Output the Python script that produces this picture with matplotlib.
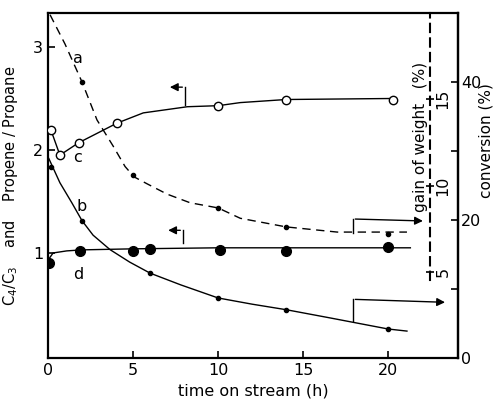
import matplotlib.pyplot as plt
import numpy as np

plt.rcParams['font.family'] = ['DejaVu Sans']
plt.rcParams['font.size'] = 11.5

# --- data ---
# a: gain of weight (%), dashed, small dots
a_t = [2, 5, 10, 14, 20]
a_val = [16.0, 10.6, 8.7, 7.6, 7.2]
a_line_t = [0.12, 1.0, 2.0, 2.88, 3.82, 4.53, 5.06, 5.82, 7.0, 8.35, 10.0, 11.3, 14.0, 17.0, 21.1]
a_line_val = [19.9, 18.2, 16.0, 13.8, 12.3, 11.1, 10.5, 10.1, 9.5, 9.0, 8.7, 8.1, 7.6, 7.3, 7.3]

# b: conversion (%), solid, small dots
b_t = [0.2, 2, 6, 10, 14, 20]
b_val = [27.7, 19.9, 12.3, 8.7, 7.0, 4.2]
b_line_t = [0.05, 0.7, 1.4, 2.0, 2.65, 3.65, 4.8, 6.0, 7.8, 10.0, 12.0, 14.0, 16.6, 20.0, 21.1]
b_line_val = [28.9, 25.4, 22.5, 19.9, 17.8, 15.7, 13.9, 12.3, 10.6, 8.7, 7.8, 7.0, 5.8, 4.2, 3.9]

# c: propene/propane, open circles
c_t = [0.18, 0.7, 1.8, 4.05, 10.0, 14.0, 20.3]
c_val = [2.19, 1.95, 2.07, 2.26, 2.43, 2.49, 2.49]
c_line_t = [0.18, 0.7, 1.8, 4.05, 5.6, 8.2, 10.0, 11.3, 14.0, 20.3]
c_line_val = [2.19, 1.95, 2.07, 2.26, 2.36, 2.42, 2.43, 2.46, 2.49, 2.50]

# d: C4/C3, filled circles
d_t = [0.05, 1.9, 5.0, 6.0, 10.1, 14.0, 20.0]
d_val = [0.90, 1.02, 1.02, 1.04, 1.03, 1.02, 1.06]
d_line_t = [0.0, 0.3, 1.1, 2.0, 5.0, 10.0, 14.0, 21.3]
d_line_val = [0.93, 1.00, 1.02, 1.03, 1.04, 1.05, 1.05, 1.05]

fig = plt.figure(figsize=(4.93, 4.0), dpi=100)
ax = fig.add_axes([48/493, 1-358/400, 410/493, 345/400])
ax2 = ax.twinx()   # conversion
ax3 = ax.twinx()   # gain of weight

# main axis
ax.plot(c_line_t, c_line_val, color='black', lw=1.0, zorder=2)
ax.plot(c_t, c_val, 'o', mfc='white', mec='black', ms=6, mew=1.0, zorder=3)
ax.plot(d_line_t, d_line_val, color='black', lw=1.0, zorder=2)
ax.plot(d_t, d_val, 'o', color='black', ms=7, zorder=3)
ax.set_xlim(0, 24.1)
ax.set_ylim(-0.02, 3.33)
ax.set_xticks([0, 5, 10, 15, 20])
ax.set_yticks([1, 2, 3])
ax.tick_params(direction='in', length=5, width=1.2)
ax.set_xlabel('time on stream (h)', labelpad=4)
ax.set_ylabel('C$_4$/C$_3$    and    Propene / Propane', fontsize=10.5)
ax.yaxis.set_label_coords(-0.068, 0.5)
for s in ax.spines.values():
    s.set_linewidth(1.6)

# conversion axis
ax2.plot(b_line_t, b_line_val, color='black', lw=1.0)
ax2.plot(b_t, b_val, 'o', color='black', ms=3)
ax2.set_ylim(0, 50)
ax2.set_yticks([0, 10, 20, 30, 40])
ax2.set_yticklabels(['0', '', '20', '', '40'])
ax2.tick_params(direction='in', length=5, width=1.2, pad=2)
ax2.set_ylabel('conversion (%)', fontsize=11)
ax2.yaxis.set_label_coords(1.05, 0.63)
for k, s in ax2.spines.items():
    if k == 'right':
        s.set_linewidth(1.6)
    else:
        s.set_visible(False)

# gain of weight axis (dashed line inside the frame)
ax3.plot(a_line_t, a_line_val, color='black', lw=1.0, ls=(0, (6, 4)))
ax3.plot(a_t, a_val, 'o', color='black', ms=3)
ax3.set_ylim(0, 20)
ax3.set_yticks([5, 10, 15])
ax3.spines['right'].set_position(('axes', 0.932))
ax3.spines['right'].set_linestyle((0, (4, 3)))
ax3.spines['right'].set_linewidth(1.5)
ax3.spines['right'].set_bounds(4.5, 20)
for k in ['left', 'top', 'bottom']:
    ax3.spines[k].set_visible(False)
ax3.tick_params(direction='inout', length=6, width=1.2, pad=1)
for lab in ax3.get_yticklabels():
    lab.set_rotation(90)
    lab.set_va('center')
ax3.set_ylabel('gain of weight   (%)', fontsize=11)
ax3.yaxis.set_label_position('right')
ax3.yaxis.set_label_coords(0.89, 0.64)

# curve letters
ax.text(1.76, 2.89, 'a', ha='center', va='center')
ax.text(2.0, 1.45, 'b', ha='center', va='center')
ax.text(1.76, 1.93, 'c', ha='center', va='center')
ax.text(1.76, 0.79, 'd', ha='center', va='center')

# axis pointers
arr = dict(arrowstyle='-|>', color='black', lw=1.0, mutation_scale=12)
ax.plot([8.06, 8.06], [2.44, 2.61], color='black', lw=1.0)
ax.annotate('', xy=(7.0, 2.61), xytext=(8.06, 2.61), arrowprops=arr)
ax.plot([7.94, 7.94], [1.10, 1.22], color='black', lw=1.0)
ax.annotate('', xy=(6.9, 1.22), xytext=(7.94, 1.22), arrowprops=arr)
ax.plot([17.9, 17.9], [1.19, 1.33], color='black', lw=1.0)
ax.annotate('', xy=(22.2, 1.31), xytext=(17.9, 1.33), arrowprops=arr)
ax.plot([17.9, 17.9], [0.34, 0.55], color='black', lw=1.0)
ax.annotate('', xy=(23.5, 0.52), xytext=(17.9, 0.55), arrowprops=arr)

fig.savefig('out.png', dpi=100)
